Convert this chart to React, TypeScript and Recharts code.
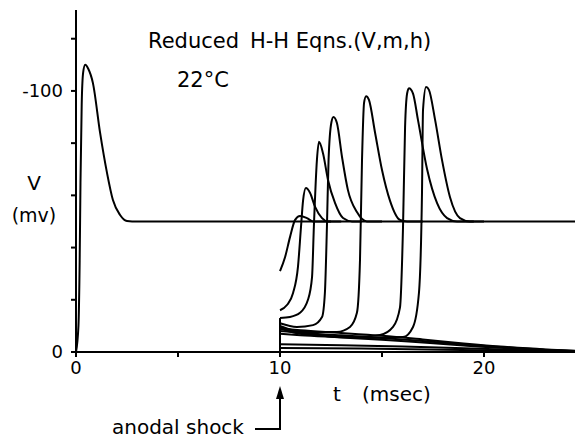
import React from 'react'
import { LineChart, Line, XAxis, YAxis } from 'recharts'

// t in msec, v in mV (depolarization plotted upward, so axis is reversed)
const restAndFirstSpike = [
    { t: 0, v: 0 }, { t: 0.12, v: -10 }, { t: 0.18, v: -35 }, { t: 0.22, v: -65 },
    { t: 0.28, v: -95 }, { t: 0.35, v: -107 }, { t: 0.45, v: -110 }, { t: 0.6, v: -108.5 },
    { t: 0.83, v: -103 }, { t: 1.18, v: -84 }, { t: 1.52, v: -68.6 }, { t: 1.81, v: -58.2 },
    { t: 2.16, v: -52.5 }, { t: 2.5, v: -50.2 }, { t: 3, v: -50 }, { t: 24.46, v: -50 },
]

const shockMark = [{ t: 10, v: 0 }, { t: 10, v: -13 }]

const traceA = [
    { t: 10, v: -31 }, { t: 10.25, v: -36.4 }, { t: 10.49, v: -44 }, { t: 10.74, v: -50.6 },
    { t: 10.98, v: -52.1 }, { t: 11.32, v: -51.3 }, { t: 11.62, v: -50 }, { t: 12.5, v: -50 },
]
const traceB = [
    { t: 10, v: -16 }, { t: 10.34, v: -18 }, { t: 10.64, v: -22.6 }, { t: 10.88, v: -32.6 },
    { t: 11.03, v: -48 }, { t: 11.13, v: -58 }, { t: 11.27, v: -62.8 }, { t: 11.47, v: -61 },
    { t: 11.72, v: -55.6 }, { t: 12.06, v: -51.3 }, { t: 12.35, v: -50 }, { t: 13, v: -50 },
]
const traceC = [
    { t: 10, v: -13 }, { t: 10.49, v: -13.4 }, { t: 10.98, v: -15 }, { t: 11.37, v: -20 },
    { t: 11.57, v: -28.7 }, { t: 11.66, v: -48 }, { t: 11.81, v: -73.6 }, { t: 11.91, v: -80.5 },
    { t: 12.11, v: -76 }, { t: 12.35, v: -66 }, { t: 12.7, v: -57 }, { t: 13.09, v: -51.3 },
    { t: 13.53, v: -50 }, { t: 14, v: -50 },
]
const traceD = [
    { t: 10, v: -11 }, { t: 10.83, v: -9.6 }, { t: 11.62, v: -10.3 }, { t: 12.06, v: -13.4 },
    { t: 12.2, v: -22.6 }, { t: 12.3, v: -48 }, { t: 12.38, v: -73.6 }, { t: 12.52, v: -88 },
    { t: 12.62, v: -90 }, { t: 12.79, v: -87.7 }, { t: 13.04, v: -74.7 }, { t: 13.33, v: -62 },
    { t: 13.77, v: -53.6 }, { t: 14.26, v: -50 }, { t: 15, v: -50 },
]
const traceE = [
    { t: 10, v: -10 }, { t: 11.13, v: -7.7 }, { t: 12.79, v: -7.7 }, { t: 13.43, v: -9.6 },
    { t: 13.77, v: -15 }, { t: 13.92, v: -35 }, { t: 14.02, v: -73.6 }, { t: 14.12, v: -95.4 },
    { t: 14.22, v: -98 }, { t: 14.36, v: -96.6 }, { t: 14.66, v: -84 }, { t: 15.0, v: -69.7 },
    { t: 15.39, v: -58 }, { t: 15.88, v: -50.6 }, { t: 16.23, v: -50 }, { t: 17, v: -50 },
]
const traceF = [
    { t: 10, v: -9.5 }, { t: 11.13, v: -7.3 }, { t: 13.58, v: -5.7 }, { t: 14.9, v: -6.5 },
    { t: 15.54, v: -9.6 }, { t: 15.88, v: -17 }, { t: 16.03, v: -48 }, { t: 16.13, v: -86 },
    { t: 16.23, v: -99 }, { t: 16.32, v: -101 }, { t: 16.52, v: -99 }, { t: 16.76, v: -89 },
    { t: 17.21, v: -70 }, { t: 17.7, v: -57 }, { t: 18.19, v: -51.3 }, { t: 18.68, v: -50 },
    { t: 19.5, v: -50 },
]
const traceG = [
    { t: 10, v: -9 }, { t: 11.13, v: -6.8 }, { t: 14.41, v: -5.4 }, { t: 16.03, v: -5.7 },
    { t: 16.52, v: -9.6 }, { t: 16.81, v: -22.6 }, { t: 16.96, v: -61 }, { t: 17.01, v: -92.7 },
    { t: 17.16, v: -101.5 }, { t: 17.3, v: -100.4 }, { t: 17.6, v: -89 }, { t: 17.94, v: -73.6 },
    { t: 18.33, v: -59.4 }, { t: 18.82, v: -51.3 }, { t: 19.31, v: -50 }, { t: 20, v: -50 },
]

// stronger shocks: no spike, decay back to rest
const sub1 = [
    { t: 10, v: -9 }, { t: 11, v: -8.3 }, { t: 13, v: -7.3 }, { t: 15, v: -6.2 }, { t: 17, v: -4.8 },
    { t: 19, v: -3.3 }, { t: 21, v: -2 }, { t: 23, v: -1 }, { t: 24.46, v: -0.5 },
]
const sub2 = [
    { t: 10, v: -8 }, { t: 11, v: -7.3 }, { t: 13, v: -6.4 }, { t: 15, v: -5.4 }, { t: 17, v: -4.2 },
    { t: 19, v: -2.9 }, { t: 21, v: -1.8 }, { t: 23, v: -0.9 }, { t: 24.46, v: -0.4 },
]
const sub3 = [
    { t: 10, v: -7 }, { t: 11, v: -6.4 }, { t: 13, v: -5.6 }, { t: 15, v: -4.7 }, { t: 17, v: -3.6 },
    { t: 19, v: -2.5 }, { t: 21, v: -1.5 }, { t: 23, v: -0.8 }, { t: 24.46, v: -0.3 },
]
const sub4 = [
    { t: 10, v: -3 }, { t: 13, v: -2.6 }, { t: 16, v: -2.1 }, { t: 19, v: -1.4 }, { t: 22, v: -0.7 },
    { t: 24.46, v: -0.2 },
]
const sub5 = [
    { t: 10, v: -1.5 }, { t: 14, v: -1.3 }, { t: 18, v: -0.9 }, { t: 22, v: -0.4 }, { t: 24.46, v: -0.1 },
]

const smoothTraces = [restAndFirstSpike, traceA, traceB, traceC, traceD, traceE, traceF, traceG, sub1, sub2, sub3, sub4, sub5]

const xTicks = [0, 5, 10, 15, 20]
const xTickLabels: Record<number, string> = { 0: '0', 10: '10', 20: '20' }
const yTicks = [-120, -100, -80, -60, -40, -20, 0]
const yTickLabels: Record<number, string> = { [-100]: '-100', 0: '0' }

const FONT = '"DejaVu Sans", sans-serif'

export default function App() {
    return (
        <div style={{ position: 'absolute', left: 0, top: 0, width: 575, height: 439, background: '#fff' }}>
            <LineChart width={575} height={439} margin={{ top: 10, right: 0, bottom: 57, left: 16 }}>
                <XAxis
                    dataKey="t"
                    type="number"
                    domain={[0, 24.46]}
                    allowDataOverflow
                    ticks={xTicks}
                    tickFormatter={(v: number) => xTickLabels[v] ?? ''}
                    height={30}
                    tickSize={5}
                    tickMargin={4}
                    axisLine={{ stroke: '#000', strokeWidth: 2 }}
                    tickLine={{ stroke: '#000', strokeWidth: 2 }}
                    tick={{ fill: '#000', fontSize: 18, fontFamily: FONT }}
                />
                <YAxis
                    dataKey="v"
                    type="number"
                    domain={[-131, 0]}
                    reversed
                    allowDataOverflow
                    ticks={yTicks}
                    tickFormatter={(v: number) => yTickLabels[v] ?? ''}
                    width={60}
                    tickSize={5}
                    tickMargin={8}
                    axisLine={{ stroke: '#000', strokeWidth: 2 }}
                    tickLine={{ stroke: '#000', strokeWidth: 2 }}
                    tick={{ fill: '#000', fontSize: 18, fontFamily: FONT }}
                />
                {smoothTraces.map((d, i) => (
                    <Line
                        key={`tr-${i}`}
                        data={d}
                        dataKey="v"
                        type="monotone"
                        stroke="#000"
                        strokeWidth={2}
                        dot={false}
                        isAnimationActive={false}
                    />
                ))}
                <Line data={shockMark} dataKey="v" type="linear" stroke="#000" strokeWidth={2} dot={false} isAnimationActive={false} />
            </LineChart>
            <svg width={575} height={439} style={{ position: 'absolute', left: 0, top: 0, pointerEvents: 'none' }} fontFamily={FONT} fill="#000">
                <text x={148} y={48} fontSize={21}>Reduced</text>
                <text x={250} y={48} fontSize={21}>H-H Eqns.(V,m,h)</text>
                <text x={177} y={87} fontSize={21}>22°C</text>
                <text x={34} y={190} fontSize={20} textAnchor="middle">V</text>
                <text x={34} y={222} fontSize={19} textAnchor="middle">(mv)</text>
                <text x={333} y={401} fontSize={20}>t</text>
                <text x={362} y={401} fontSize={20}>(msec)</text>
                <text x={112} y={434} fontSize={20}>anodal shock</text>
                <path d="M255 429 H280 V392" stroke="#000" strokeWidth={2} fill="none" />
                <path d="M280 386 L276 399 L284 399 Z" fill="#000" />
            </svg>
        </div>
    )
}
